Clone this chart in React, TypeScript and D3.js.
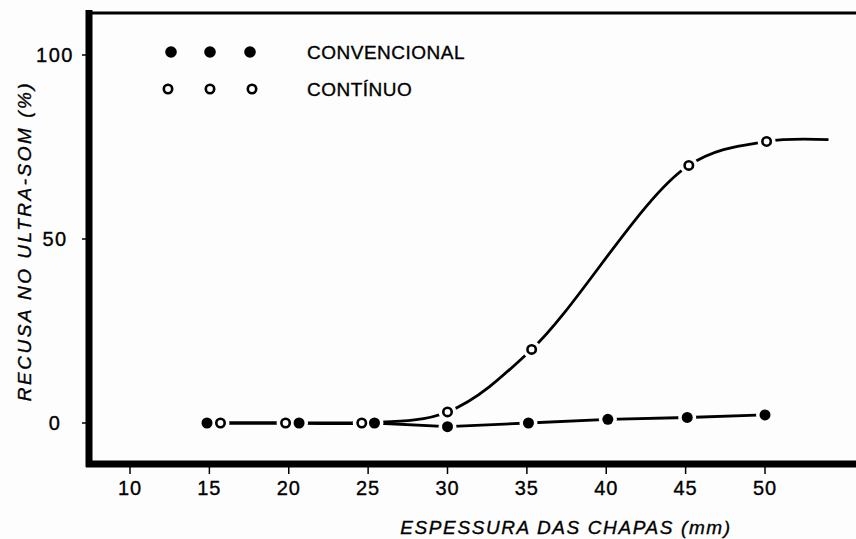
import React from "react";
import * as d3 from "d3";

// Espessura (mm) e recusa (%) por processo de lingotamento
const convencionalX = [14.85, 20.65, 25.4, 30, 35.1, 40.1, 45.1, 50];
const convencionalY = [0, 0, 0, -1, 0, 1, 1.5, 2.2];
const continuoX = [15.7, 19.8, 24.6, 30, 35.3, 45.2, 50.1];
const continuoY = [0, 0, 0, 3, 20, 70, 76.5];
// prolongamento da curva do contínuo, sem marcador
const continuoTailX = [54];
const continuoTailY = [77];

const xTicks = [10, 15, 20, 25, 30, 35, 40, 45, 50];
const yTicks = [0, 50, 100];
const legendLabels = ["CONVENCIONAL", "CONTÍNUO"];

const W = 856;
const H = 539;
const FONT = "'Liberation Sans', Arial, sans-serif";
const BG = "#fdfdfd";

export default function App() {
  const x = d3.scaleLinear().domain([10, 50]).range([130, 765]);
  const y = d3.scaleLinear().domain([0, 100]).range([423, 55]);

  const conv = convencionalX.map((v, i) => [v, convencionalY[i]] as [number, number]);
  const cont = continuoX.map((v, i) => [v, continuoY[i]] as [number, number]);
  const contLine = cont.concat(
    continuoTailX.map((v, i) => [v, continuoTailY[i]] as [number, number])
  );

  const linear = d3
    .line<[number, number]>()
    .x((d) => x(d[0]))
    .y((d) => y(d[1]))
    .curve(d3.curveLinear);
  const smooth = d3
    .line<[number, number]>()
    .x((d) => x(d[0]))
    .y((d) => y(d[1]))
    .curve(d3.curveCatmullRom.alpha(0.5));

  const frameLeft = 89;
  const frameTop = 13;
  const frameBottom = 464;

  const textStyle = { fontFamily: FONT, fill: "#000", stroke: "#000", strokeWidth: 0.35 };

  return (
    <svg
      width={W}
      height={H}
      viewBox={`0 0 ${W} ${H}`}
      style={{ position: "absolute", left: 0, top: 0, background: BG }}
    >
      <rect x={0} y={0} width={W} height={H} fill={BG} />

      {/* moldura */}
      <line x1={frameLeft - 3} x2={W} y1={frameTop} y2={frameTop} stroke="#000" strokeWidth={3} />
      <line x1={frameLeft} x2={frameLeft} y1={frameTop - 3} y2={frameBottom + 3} stroke="#000" strokeWidth={7} />
      <line x1={frameLeft - 3} x2={W} y1={frameBottom} y2={frameBottom} stroke="#000" strokeWidth={7} />

      {/* eixo y */}
      {yTicks.map((t) => (
        <g key={`y${t}`}>
          <line x1={frameLeft - 7} x2={frameLeft} y1={y(t)} y2={y(t)} stroke="#000" strokeWidth={1.5} />
          <text
            x={55}
            y={y(t)}
            textAnchor="middle"
            dominantBaseline="central"
            fontSize={20}
            letterSpacing={1.5}
            style={textStyle}
          >
            {t}
          </text>
        </g>
      ))}

      {/* eixo x */}
      {xTicks.map((t) => (
        <g key={`x${t}`}>
          <line x1={x(t)} x2={x(t)} y1={frameBottom} y2={frameBottom + 10} stroke="#000" strokeWidth={1.5} />
          <text x={x(t)} y={495} textAnchor="middle" fontSize={20} letterSpacing={1} style={textStyle}>
            {t}
          </text>
        </g>
      ))}

      <text
        x={566}
        y={534}
        textAnchor="middle"
        fontStyle="italic"
        fontSize={19}
        letterSpacing={1.6}
        style={textStyle}
      >
        ESPESSURA DAS CHAPAS (mm)
      </text>
      <text
        transform={`translate(24,241) rotate(-90)`}
        textAnchor="middle"
        dominantBaseline="central"
        fontStyle="italic"
        fontSize={19}
        letterSpacing={2.5}
        style={textStyle}
      >
        RECUSA NO ULTRA-SOM (%)
      </text>

      {/* curvas */}
      <path d={linear(conv) ?? ""} fill="none" stroke="#000" strokeWidth={2.8} />
      <path d={smooth(contLine) ?? ""} fill="none" stroke="#000" strokeWidth={2.8} />

      {/* marcadores com folga branca */}
      {conv.concat(cont).map((d, i) => (
        <circle key={`h${i}`} cx={x(d[0])} cy={y(d[1])} r={9} fill={BG} />
      ))}
      {conv.map((d, i) => (
        <circle key={`cf${i}`} cx={x(d[0])} cy={y(d[1])} r={5.5} fill="#000" />
      ))}
      {cont.map((d, i) => (
        <circle
          key={`of${i}`}
          cx={x(d[0])}
          cy={y(d[1])}
          r={4.2}
          fill={BG}
          stroke="#000"
          strokeWidth={2.6}
        />
      ))}

      {/* legenda */}
      {[171, 210, 250].map((cx) => (
        <circle key={`lf${cx}`} cx={cx} cy={52} r={5.8} fill="#000" />
      ))}
      {[168, 210, 252].map((cx) => (
        <circle key={`lo${cx}`} cx={cx} cy={89} r={4.2} fill={BG} stroke="#000" strokeWidth={2.6} />
      ))}
      <text x={307} y={59} fontSize={19} letterSpacing={0.5} style={textStyle}>
        {legendLabels[0]}
      </text>
      <text x={307} y={96} fontSize={19} letterSpacing={0.5} style={textStyle}>
        {legendLabels[1]}
      </text>
    </svg>
  );
}
